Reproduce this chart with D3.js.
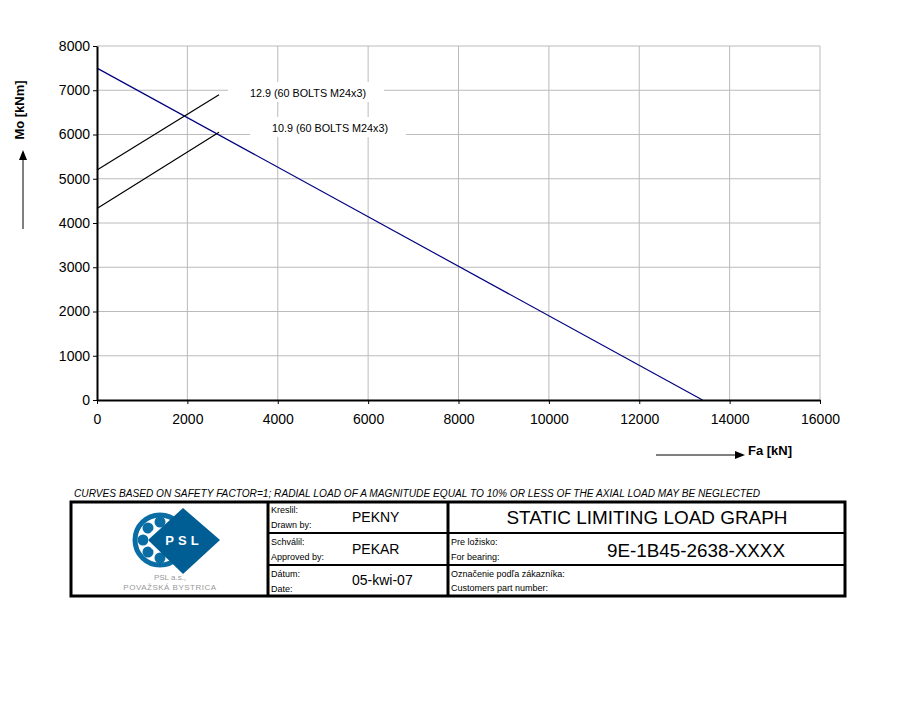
<!DOCTYPE html>
<html><head><meta charset="utf-8">
<script src="https://cdn.jsdelivr.net/npm/d3@7"></script>
<style>body{margin:0;background:#fff}svg{font-family:"Liberation Sans",Arial,sans-serif}</style>
</head><body>
<svg id="c" width="906" height="726"></svg>
<script>
const xTicks=[0,2000,4000,6000,8000,10000,12000,14000,16000];
const yTicks=[0,1000,2000,3000,4000,5000,6000,7000,8000];
const limitFa=[0,13400];
const limitMo=[7500,0];
const bolt129Fa=[0,2700];
const bolt129Mo=[5200,6900];
const bolt109Fa=[0,2700];
const bolt109Mo=[4330,6050];
const labels=["12.9 (60 BOLTS M24x3)","10.9 (60 BOLTS M24x3)"];

const svg=d3.select("#c");
const x=d3.scaleLinear().domain([0,16000]).range([97,820]);
const y=d3.scaleLinear().domain([0,8000]).range([400,46]);
const g=svg.append("g");
g.selectAll("line.gx").data(xTicks.slice(1)).join("line").attr("x1",d=>x(d)).attr("x2",d=>x(d)).attr("y1",y(0)).attr("y2",y(8000)).attr("stroke","#bbb").attr("stroke-width",1);
g.selectAll("line.gy").data(yTicks.slice(1)).join("line").attr("y1",d=>y(d)).attr("y2",d=>y(d)).attr("x1",x(0)).attr("x2",x(16000)).attr("stroke","#bbb").attr("stroke-width",1);

const lab=[{t:labels[0],x:250,y:94,w:116},{t:labels[1],x:272,y:129,w:116}];
lab.forEach(l=>{
 g.append("rect").attr("x",l.x-22).attr("y",l.y-12).attr("width",l.w+40).attr("height",20).attr("fill","#fff");
 g.append("text").attr("x",l.x).attr("y",l.y+3).attr("font-size",10.3).attr("textLength",l.w).attr("lengthAdjust","spacingAndGlyphs").text(l.t);
});

const line=d3.line().x(d=>x(d[0])).y(d=>y(d[1]));
g.append("path").attr("d",line(d3.zip(limitFa,limitMo))).attr("stroke","#000080").attr("fill","none").attr("stroke-width",1.2);
g.append("path").attr("d",line(d3.zip(bolt129Fa,bolt129Mo))).attr("stroke","#000").attr("fill","none").attr("stroke-width",1.2);
g.append("path").attr("d",line(d3.zip(bolt109Fa,bolt109Mo))).attr("stroke","#000").attr("fill","none").attr("stroke-width",1.2);

const ax=svg.append("g").attr("transform",`translate(0,${y(0)})`).call(d3.axisBottom(x).tickValues(xTicks).tickSize(4).tickSizeOuter(0).tickFormat(d3.format("d")));
const ay=svg.append("g").attr("transform",`translate(${x(0)},0)`).call(d3.axisLeft(y).tickValues(yTicks).tickSize(4).tickSizeOuter(0).tickFormat(d3.format("d")));
[ax,ay].forEach(a=>{a.selectAll("text").attr("font-size",14).attr("font-family","Liberation Sans, Arial").attr("fill","#000");a.select(".domain").attr("stroke-width",2);});
ax.selectAll("text").attr("dy","1.2em");

svg.append("text").attr("transform","translate(24,110) rotate(-90)").attr("text-anchor","middle").attr("font-size",13).attr("font-weight","bold").text("Mo [kNm]");
svg.append("line").attr("x1",23).attr("x2",23).attr("y1",229).attr("y2",152).attr("stroke","#000");
svg.append("path").attr("d","M19,160 L23,150 L27,160Z").attr("fill","#000");
svg.append("text").attr("x",748).attr("y",455).attr("font-size",13).attr("font-weight","bold").text("Fa [kN]");
svg.append("line").attr("x1",656).attr("x2",735).attr("y1",455).attr("y2",455).attr("stroke","#000");
svg.append("path").attr("d","M735,451 L745,455 L735,459Z").attr("fill","#000");

svg.append("text").attr("x",74).attr("y",497).attr("font-size",10).attr("font-style","italic").attr("textLength",686).attr("lengthAdjust","spacingAndGlyphs").text("CURVES BASED ON SAFETY FACTOR=1; RADIAL LOAD OF A MAGNITUDE EQUAL TO 10% OR LESS OF THE AXIAL LOAD MAY BE NEGLECTED");
const tb=svg.append("g").attr("stroke","#000").attr("fill","none");
tb.append("rect").attr("x",71).attr("y",502).attr("width",774).attr("height",94).attr("stroke-width",3);
[[268,502,268,596],[448,502,448,596]].forEach(a=>tb.append("line").attr("x1",a[0]).attr("y1",a[1]).attr("x2",a[2]).attr("y2",a[3]).attr("stroke-width",3));
[[268,533,845,533],[268,565,845,565]].forEach(a=>tb.append("line").attr("x1",a[0]).attr("y1",a[1]).attr("x2",a[2]).attr("y2",a[3]).attr("stroke-width",2));
const sm=[["Kreslil:",271,513],["Drawn by:",271,528],["Schválil:",271,545],["Approved by:",271,560],["Dátum:",271,577],["Date:",271,592],
["Pre ložisko:",451,545],["For bearing:",451,560],["Označenie podľa zákazníka:",451,577],["Customers part number:",451,591]];
sm.forEach(s=>svg.append("text").attr("x",s[1]).attr("y",s[2]).attr("font-size",9).text(s[0]));
[["PEKNY",352,522],["PEKAR",352,554],["05-kwi-07",352,585]].forEach(s=>svg.append("text").attr("x",s[1]).attr("y",s[2]).attr("font-size",14).text(s[0]));
svg.append("text").attr("x",647).attr("y",524).attr("text-anchor","middle").attr("font-size",18.5).attr("textLength",281).attr("lengthAdjust","spacingAndGlyphs").text("STATIC LIMITING LOAD GRAPH");
svg.append("text").attr("x",696).attr("y",557).attr("text-anchor","middle").attr("font-size",18.5).attr("textLength",178).attr("lengthAdjust","spacingAndGlyphs").text("9E-1B45-2638-XXXX");

const lg=svg.append("g");
lg.append("circle").attr("cx",160).attr("cy",540).attr("r",25).attr("fill","none").attr("stroke","#0a6ea5").attr("stroke-width",5);
[[0,-18],[-12,-12],[-17,0],[-12,12],[0,18]].forEach(p=>lg.append("circle").attr("cx",160+p[0]).attr("cy",540+p[1]).attr("r",5.5).attr("fill","#0a6ea5"));
lg.append("circle").attr("cx",160).attr("cy",540).attr("r",12).attr("fill","#fff");
lg.append("path").attr("d","M183,508 L220,540 L183,574 L148,540Z").attr("fill","#005e94");
lg.append("text").attr("x",184).attr("y",545).attr("text-anchor","middle").attr("font-size",13).attr("font-weight","bold").attr("fill","#fff").attr("letter-spacing",4).text("PSL");
lg.append("text").attr("x",170).attr("y",580).attr("text-anchor","middle").attr("font-size",8).attr("fill","#999").text("PSL  a.s.,");
lg.append("text").attr("x",170).attr("y",590).attr("text-anchor","middle").attr("font-size",8).attr("fill","#999").attr("letter-spacing",0.5).text("POVAŽSKÁ  BYSTRICA");
</script></body></html>
